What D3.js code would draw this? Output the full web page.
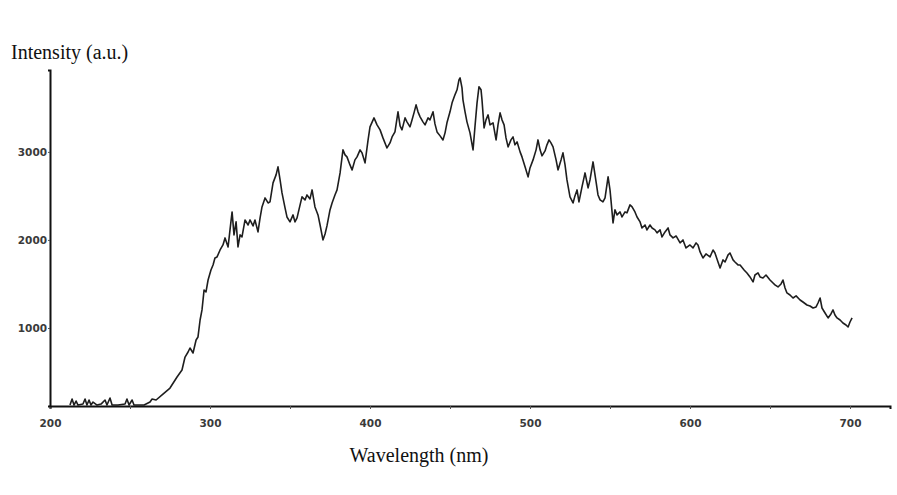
<!DOCTYPE html>
<html>
<head>
<meta charset="utf-8">
<script src="https://cdn.jsdelivr.net/npm/d3@7"></script>
<style>
    body { margin: 0; background: #fff; }
    .tick text { font-family: "DejaVu Sans", sans-serif; font-weight: bold; font-size: 10.5px; fill: #3a3a3a; }
    .title { font-family: "Liberation Serif", "Times New Roman", serif; font-size: 20px; fill: #111; }
</style>
</head>
<body>
<div id="chart"></div>
<script>
// spectrum
var wavelength = [
    212.5, 213.8, 215, 216.3, 217.5, 220.6, 221.9, 223.1, 224.4, 225.6, 226.9, 229.4, 231.9, 234.4, 235.6,
    237.5, 238.8, 242.5, 246.9, 248.1, 249.4, 251.3, 252.5, 255, 258.8, 262.5, 263.8, 266.3, 270.6, 275,
    279.4, 282.5, 284.4, 286.3, 287.5, 289.4, 291.3, 292.5, 293.8, 295, 296.3, 297.5, 298.8, 300.6, 301.9,
    303.1, 304.4, 306.3, 308.1, 309.4, 311.3, 312.5, 313.8, 315, 316.3, 317.5, 318.8, 320, 321.9, 323.8,
    325, 326.9, 328.1, 330, 331.3, 332.5, 334.4, 336.3, 337.5, 339.4, 341.3, 342.5, 343.8, 345, 346.9,
    348.1, 350, 351.9, 353.1, 354.4, 356.3, 357.5, 359.4, 360.6, 362.5, 363.8, 365.6, 367.5, 368.8, 370.6,
    371.9, 373.1, 375, 376.3, 378.1, 379.4, 381.3, 383.1, 384.4, 385.6, 387.5, 388.8, 390.6, 391.9, 393.8,
    395, 396.9, 398.8, 400, 402.5, 404.4, 406.3, 408.1, 410.6, 412.5, 413.8, 415.6, 417.5, 418.8, 420,
    421.9, 423.1, 425, 426.3, 427.5, 428.8, 430, 431.3, 433.1, 434.4, 436.3, 437.5, 439.4, 440.6, 441.9,
    443.8, 445.6, 446.9, 448.1, 450, 451.3, 453.1, 454.4, 455.6, 456.3, 457.5, 458.1, 459.4, 460.6, 462.5,
    464.4, 465.6, 466.9, 468.1, 469.4, 470, 471.3, 472.5, 473.8, 475, 476.9, 478.8, 480, 481.3, 482.5,
    483.8, 485, 486.3, 488.1, 489.4, 490.6, 491.9, 493.8, 495, 496.9, 498.8, 500, 501.9, 503.8, 505,
    506.3, 507.5, 509.4, 510.6, 511.9, 513.1, 514.4, 516.3, 517.5, 519.4, 520.6, 521.9, 523.1, 525, 526.9,
    528.1, 529.4, 530.6, 532.5, 534.4, 536.3, 537.5, 539.4, 541.3, 542.5, 543.8, 545.6, 546.9, 548.8, 550,
    550.6, 551.9, 553.1, 554.4, 556.3, 557.5, 559.4, 560.6, 562.5, 563.8, 565.6, 566.9, 568.8, 570, 571.9,
    573.1, 575, 576.3, 578.1, 579.4, 581.3, 582.5, 584.4, 586.3, 587.5, 589.4, 591.3, 593.8, 595.6, 597.5,
    600, 601.9, 603.8, 605, 606.3, 608.1, 610, 612.5, 614.4, 615.6, 617.5, 618.8, 620.6, 621.9, 623.8,
    625, 626.9, 628.1, 630, 631.3, 633.8, 635.6, 637.5, 639.4, 640.6, 642.5, 643.8, 645.6, 647.5, 650,
    651.9, 653.1, 655, 656.9, 658.1, 659.4, 660.6, 662.5, 664.4, 666.3, 668.8, 670.6, 673.1, 675, 676.9,
    678.8, 680, 681.3, 682.5, 684.4, 686.3, 688.1, 689.4, 690.6, 691.9, 693.8, 695.6, 697.5, 698.8, 700,
    701.3
];
var intensity = [
    125, 193, 125, 170, 125, 136, 193, 125, 182, 125, 159, 125, 136, 182, 125,
    205, 125, 125, 136, 193, 125, 182, 125, 125, 125, 159, 193, 182, 250, 318,
    443, 523, 670, 727, 773, 716, 864, 898, 1091, 1205, 1432, 1409, 1545, 1659, 1716,
    1795, 1807, 1886, 1943, 2023, 1920, 2114, 2318, 2057, 2205, 1920, 2057, 2034, 2227, 2170,
    2227, 2159, 2227, 2091, 2250, 2375, 2477, 2420, 2432, 2648, 2739, 2830, 2682, 2534, 2364,
    2261, 2205, 2284, 2205, 2250, 2398, 2489, 2455, 2511, 2466, 2568, 2375, 2284, 2170, 2000,
    2068, 2159, 2341, 2420, 2511, 2568, 2761, 3023, 2966, 2943, 2852, 2795, 2909, 2943, 3023,
    2989, 2875, 3136, 3284, 3386, 3307, 3250, 3159, 3045, 3102, 3170, 3227, 3455, 3295, 3250,
    3386, 3341, 3284, 3364, 3443, 3534, 3455, 3398, 3341, 3307, 3386, 3364, 3455, 3318, 3227,
    3182, 3136, 3216, 3330, 3455, 3557, 3648, 3705, 3818, 3841, 3727, 3591, 3455, 3341, 3216,
    3023, 3284, 3557, 3739, 3705, 3591, 3273, 3364, 3420, 3307, 3330, 3136, 3307, 3443, 3364,
    3307, 3159, 3057, 3136, 3170, 3080, 3114, 3000, 2943, 2830, 2716, 2818, 2909, 3023, 3136,
    3023, 2955, 3011, 3080, 3136, 3102, 3057, 2909, 2795, 2909, 2989, 2852, 2682, 2489, 2420,
    2500, 2568, 2432, 2602, 2761, 2591, 2682, 2886, 2659, 2511, 2455, 2432, 2477, 2716, 2568,
    2455, 2193, 2341, 2284, 2318, 2261, 2318, 2307, 2398, 2375, 2318, 2261, 2205, 2136, 2170,
    2114, 2170, 2136, 2114, 2080, 2114, 2034, 2091, 2136, 2057, 2023, 2045, 1966, 2000, 1909,
    1943, 1909, 1966, 1943, 1864, 1795, 1841, 1807, 1886, 1852, 1750, 1682, 1773, 1750, 1830,
    1852, 1773, 1750, 1716, 1716, 1659, 1625, 1580, 1523, 1602, 1625, 1580, 1568, 1602, 1545,
    1511, 1489, 1466, 1500, 1545, 1455, 1398, 1375, 1341, 1364, 1318, 1295, 1261, 1250, 1227,
    1239, 1284, 1341, 1227, 1170, 1114, 1159, 1205, 1148, 1114, 1091, 1057, 1034, 1011, 1068,
    1114
];
var xTicks = [200, 250, 300, 350, 400, 450, 500, 550, 600, 650, 700];
var yTicks = [1000, 2000, 3000];

var width = 897,
    height = 495;

var svg = d3.select('#chart')
    .append('svg')
    .attr('width', width)
    .attr('height', height);

// scales fitted to the axis frame of the picture
var x = d3.scaleLinear().domain([200, 725]).range([50, 890]);
var y = d3.scaleLinear().domain([114, 3930]).range([406, 70]);

var points = wavelength.map(function(w, i) { return [w, intensity[i]]; });

var line = d3.line()
    .x(function(d) { return x(d[0]); })
    .y(function(d) { return y(d[1]); });

svg.append('path')
    .datum(points)
    .attr('d', line)
    .attr('fill', 'none')
    .attr('stroke', '#1e1e1e')
    .attr('stroke-width', 1.6)
    .attr('stroke-linejoin', 'round');

// x axis, labels only on the hundreds
var xAxis = d3.axisBottom(x)
    .tickValues(xTicks)
    .tickSize(3)
    .tickPadding(11)
    .tickFormat(function(d) { return d % 100 === 0 ? d : ''; });

var gx = svg.append('g')
    .attr('transform', 'translate(0,' + y(114) + ')')
    .call(xAxis);
gx.select('.domain').attr('stroke', '#111').attr('stroke-width', 2);
gx.selectAll('.tick line').attr('stroke', '#555');

// y axis
var yAxis = d3.axisLeft(y)
    .tickValues(yTicks)
    .tickSize(2)
    .tickPadding(1)
    .tickFormat(d3.format('d'));

var gy = svg.append('g')
    .attr('transform', 'translate(' + x(200) + ',0)')
    .call(yAxis);
gy.select('.domain').attr('stroke', '#111').attr('stroke-width', 2);
gy.selectAll('.tick line').attr('stroke', '#555');

// axis titles
svg.append('text')
    .attr('class', 'title')
    .attr('x', 11)
    .attr('y', 59)
    .text('Intensity (a.u.)');

svg.append('text')
    .attr('class', 'title')
    .attr('x', 419)
    .attr('y', 462)
    .style('text-anchor', 'middle')
    .text('Wavelength (nm)');
</script>
</body>
</html>
